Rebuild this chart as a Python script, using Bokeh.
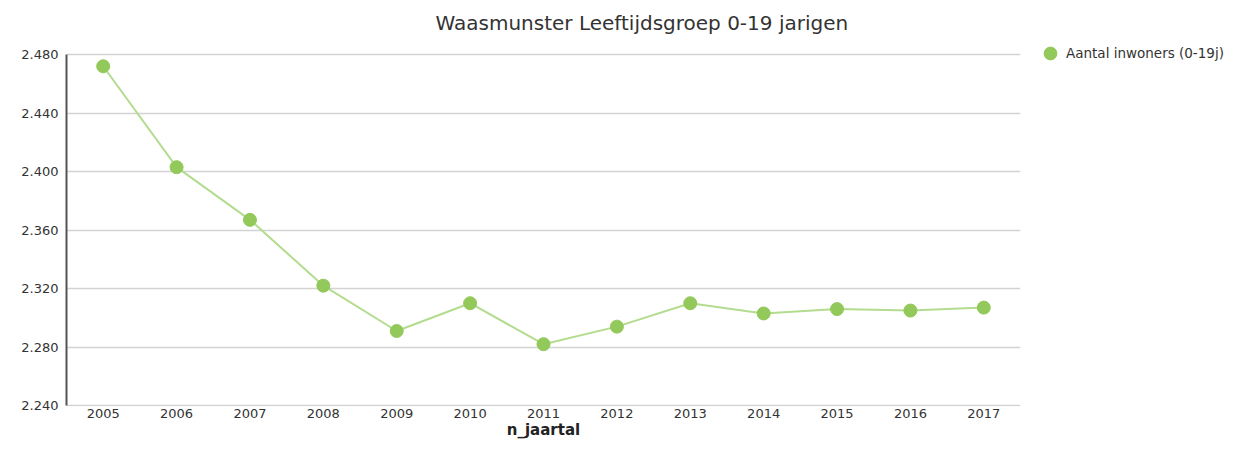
from bokeh.plotting import figure
from bokeh.layouts import row
from bokeh.models import ColumnDataSource, Legend, LegendItem, FixedTicker, Range1d
from bokeh.embed import file_html
from bokeh.resources import INLINE

years = [2005, 2006, 2007, 2008, 2009, 2010, 2011, 2012, 2013, 2014, 2015, 2016, 2017]
inwoners = [2472, 2403, 2367, 2322, 2291, 2310, 2282, 2294, 2310, 2303, 2306, 2305, 2307]
y_ticks = [2240, 2280, 2320, 2360, 2400, 2440, 2480]
y_tick_labels = ["2.240", "2.280", "2.320", "2.360", "2.400", "2.440", "2.480"]
x_tick_labels = [str(y) for y in years]
title_text = "Waasmunster  Leeftijdsgroep 0-19 jarigen"
series_name = "Aantal inwoners (0-19j)"
x_label = "n_jaartal"

FONT = "DejaVu Sans"
LINE_COLOR = "#b3dc8f"
MARKER_COLOR = "#92c95a"

src = ColumnDataSource(dict(x=years, y=inwoners))

p = figure(width=1025, height=441, output_backend="svg", toolbar_location=None,
           x_range=Range1d(years[0] - 0.5, years[-1] + 0.5),
           y_range=Range1d(y_ticks[0] - 0.6, y_ticks[-1] + 13.7),
           min_border_left=66, min_border_right=5, min_border_top=34, min_border_bottom=33)
p.outline_line_color = None
p.background_fill_color = "white"
p.border_fill_color = "white"

p.title.text = title_text
p.title.align = "left"
p.title.offset = 369
p.title.text_font = FONT
p.title.text_font_size = "20px"
p.title.text_font_style = "normal"
p.title.text_color = "#333333"
p.title.vertical_align = "bottom"
p.title.standoff = 0

ln = p.line("x", "y", source=src, line_color=LINE_COLOR, line_width=2)
sc = p.scatter("x", "y", source=src, size=13, fill_color=MARKER_COLOR, line_color=MARKER_COLOR)

# axes
p.xaxis.ticker = FixedTicker(ticks=years)
p.xaxis.major_label_overrides = {y: s for y, s in zip(years, x_tick_labels)}
p.xaxis.axis_line_color = None
p.xaxis.major_tick_line_color = None
p.xaxis.minor_tick_line_color = None
p.xaxis.major_tick_in = 0
p.xaxis.major_tick_out = 0
p.xaxis.major_label_text_font = FONT
p.xaxis.major_label_text_font_size = "13px"
p.xaxis.major_label_text_color = "#333333"
p.xaxis.major_label_standoff = 2
p.xaxis.axis_label = x_label
p.xaxis.axis_label_text_font = FONT
p.xaxis.axis_label_text_font_size = "15px"
p.xaxis.axis_label_text_font_style = "bold"
p.xaxis.axis_label_text_color = "#222222"
p.xaxis.axis_label_standoff = 0

p.yaxis.ticker = FixedTicker(ticks=y_ticks)
p.yaxis.bounds = (y_ticks[0], y_ticks[-1])
p.yaxis.major_label_overrides = {t: s for t, s in zip(y_ticks, y_tick_labels)}
p.yaxis.axis_line_color = "#555555"
p.yaxis.axis_line_width = 2
p.yaxis.major_tick_line_color = None
p.yaxis.minor_tick_line_color = None
p.yaxis.major_tick_in = 0
p.yaxis.major_tick_out = 0
p.yaxis.major_label_text_font = FONT
p.yaxis.major_label_text_font_size = "13px"
p.yaxis.major_label_text_color = "#333333"
p.yaxis.major_label_standoff = 8

p.xgrid.grid_line_color = None
p.ygrid.ticker = FixedTicker(ticks=y_ticks)
p.ygrid.grid_line_color = "#d3d3d3"
p.ygrid.grid_line_width = 1.5

# legend panel (separate figure so the legend can sit outside the data frame)
p2 = figure(width=200, height=441, output_backend="svg", toolbar_location=None,
            x_axis_type=None, y_axis_type=None, x_range=Range1d(0, 1), y_range=Range1d(0, 1),
            min_border=0, min_border_left=6)
p2.outline_line_color = None
p2.grid.grid_line_color = None
sc2 = p2.scatter("x", "y", source=src, size=13, fill_color=MARKER_COLOR, line_color=MARKER_COLOR)
legend = Legend(items=[LegendItem(label=series_name, renderers=[sc2])],
                location="top_left", padding=0, margin=3, border_line_color=None,
                background_fill_alpha=0, label_text_font=FONT, label_text_font_size="13.5px",
                label_text_color="#333333", label_standoff=0, glyph_width=32, glyph_height=32)
p2.add_layout(legend, "center")

layout = row(p, p2, spacing=0)
open("out.html", "w").write(file_html(layout, INLINE))
